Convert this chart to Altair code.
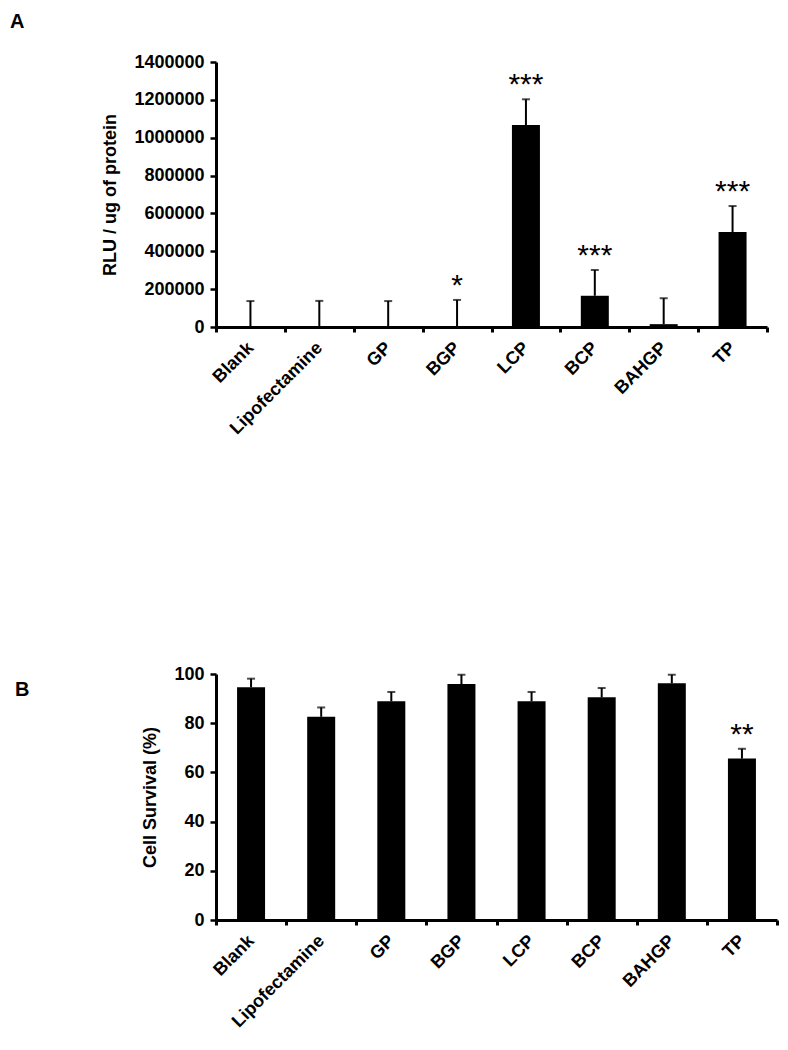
import altair as alt
import pandas as pd

categories = ["Blank", "Lipofectamine", "GP", "BGP", "LCP", "BCP", "BAHGP", "TP"]

rlu_mean = [0, 0, 0, 0, 1067000, 165000, 15000, 502000]
rlu_err = [137000, 138000, 137000, 143000, 136000, 136000, 137000, 137000]
rlu_sig = ["", "", "", "*", "***", "***", "", "***"]

surv_mean = [94.6, 82.6, 88.9, 95.9, 88.9, 90.5, 96.2, 65.6]
surv_err = [3.5, 3.8, 3.8, 3.8, 3.8, 3.8, 3.5, 4.0]
surv_sig = ["", "", "", "", "", "", "", "**"]

rlu_ticks = [0, 200000, 400000, 600000, 800000, 1000000, 1200000, 1400000]
surv_ticks = [0, 20, 40, 60, 80, 100]

FONT = "Liberation Sans"


def make_df(mean, err, sig):
    return pd.DataFrame({
        "cat": categories,
        "mean": mean,
        "top": [m + e for m, e in zip(mean, err)],
        "sig": sig,
    })


def panel(df, ytitle, domain, ticks, letter, lx, ly, w, h):
    xenc = alt.X(
        "cat:N", sort=categories, title=None,
        scale=alt.Scale(paddingInner=0, paddingOuter=0),
        axis=alt.Axis(labelAngle=-45, labelAlign="right", labelBaseline="middle",
                      labelFontSize=18, labelFont=FONT, labelFontWeight="bold",
                      labelOverlap=False,
                      tickBand="extent", tickSize=5, tickWidth=3, labelPadding=13,
                      domainWidth=3),
    )
    yscale = alt.Scale(domain=domain, nice=False, zero=True)
    yaxis = alt.Axis(values=ticks, format="d", title=ytitle,
                     labelFontSize=18, labelFont=FONT, labelFontWeight="bold",
                     labelOverlap=False,
                     titleFontSize=18, titleFont=FONT, titleFontWeight="bold",
                     tickSize=6, tickWidth=2.5, domainWidth=3,
                     labelPadding=6, titlePadding=14)
    base = alt.Chart(df).encode(x=xenc)
    bars = base.mark_bar(color="black", width=28).encode(
        y=alt.Y("mean:Q", scale=yscale, axis=yaxis, title=ytitle))
    rule = base.mark_rule(color="black", strokeWidth=2).encode(
        y=alt.Y("mean:Q", scale=yscale, axis=yaxis, title=ytitle), y2="top:Q")
    cap = base.mark_tick(color="black", thickness=2, size=8).encode(
        y=alt.Y("top:Q", scale=yscale, axis=yaxis, title=ytitle))
    stars = base.mark_text(font=FONT, fontSize=30, baseline="alphabetic", dy=-5,
                           color="black").encode(
        y=alt.Y("top:Q", scale=yscale, axis=yaxis, title=ytitle), text="sig:N")
    lab = alt.Chart(pd.DataFrame({"t": [letter]})).mark_text(
        font=FONT, fontSize=20, fontWeight="bold", align="left", baseline="top",
        color="black").encode(x=alt.value(lx), y=alt.value(ly), text="t:N")
    return alt.layer(bars, rule, cap, stars, lab).properties(width=w, height=h)


chart_a = panel(make_df(rlu_mean, rlu_err, rlu_sig), "RLU / ug of protein",
                [0, 1400000], rlu_ticks, "A", -206, -50, 551, 265)
chart_b = panel(make_df(surv_mean, surv_err, surv_sig), "Cell Survival (%)",
                [0, 100], surv_ticks, "B", -201, 6, 561, 246)

chart = alt.vconcat(chart_a, chart_b, spacing=207).properties(
    padding={"left": 2, "top": 4, "right": 0, "bottom": 0}
).configure_view(stroke=None).configure_axis(
    grid=False, domainColor="black", tickColor="black",
    labelColor="black", titleColor="black"
)

chart.save("out.html", embed_options={"renderer": "svg", "actions": False})
